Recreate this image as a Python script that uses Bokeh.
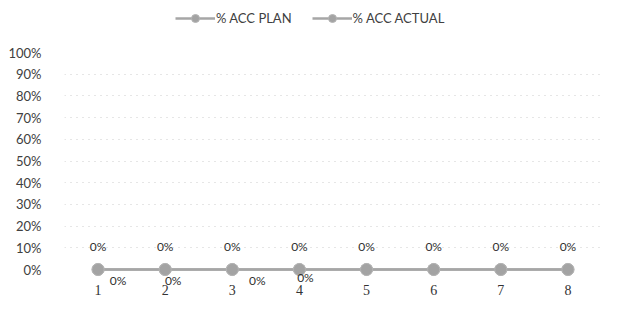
from bokeh.plotting import figure
from bokeh.models import (ColumnDataSource, FixedTicker, Legend, LegendItem,
                          Range1d, NumeralTickFormatter)
from bokeh.core.properties import value
from bokeh.embed import file_html
from bokeh.resources import INLINE

# ---- data ----
categories = [1, 2, 3, 4, 5, 6, 7, 8]
x_tick_labels = ["1", "2", "3", "4", "5", "6", "7", "8"]
acc_plan = [0, 0, 0, 0, 0, 0, 0, 0]
acc_actual = [0, 0, 0, 0, 0, 0, 0, 0]
plan_labels = ["0%", "0%", "0%", "0%", "0%", "0%", "0%", "0%"]
actual_label_cats = [1, 2, 3, 4]
actual_label_vals = [0, 0, 0, 0]
actual_labels = ["0%", "0%", "0%", "0%"]
y_ticks = [0, 0.1, 0.2, 0.3, 0.4, 0.5, 0.6, 0.7, 0.8, 0.9, 1.0]
grid_ticks = [0.1, 0.2, 0.3, 0.4, 0.5, 0.6, 0.7, 0.8, 0.9]

# label placement (styling only)
actual_dx = [20, 8, 25, 6]
actual_dy = [11, 11, 11, 8]

TXT = "#404040"
FONT = "Lato"
PX = 217.0   # pixels per unit on the y scale
H = 304

p = figure(width=601, height=H, output_backend="svg", toolbar_location=None,
           x_range=Range1d(0.5, 8.5),
           y_range=Range1d(-(H - 269) / PX, 1 + 52 / PX),
           min_border_left=64, min_border_right=0, min_border_top=0,
           min_border_bottom=0)
p.outline_line_color = None
p.background_fill_color = "white"
p.border_fill_color = "white"

p.xaxis.visible = False

# y axis
p.yaxis.ticker = FixedTicker(ticks=y_ticks)
p.yaxis.formatter = NumeralTickFormatter(format="0%")
p.yaxis.axis_line_color = None
p.yaxis.major_tick_line_color = None
p.yaxis.minor_tick_line_color = None
p.yaxis.major_label_standoff = 17
p.yaxis.major_label_text_font = FONT
p.yaxis.major_label_text_font_size = "13px"
p.yaxis.major_label_text_color = TXT

p.xgrid.visible = False
p.ygrid.ticker = FixedTicker(ticks=grid_ticks)
p.ygrid.grid_line_color = "#cdcdcd"
p.ygrid.grid_line_dash = "1 5"
p.ygrid.grid_line_width = 1

src = ColumnDataSource(dict(x=categories, plan=acc_plan, actual=acc_actual,
                            plan_lbl=plan_labels, xlbl=x_tick_labels))

l1 = p.line("x", "plan", source=src, line_color="#a6a6a6", line_width=2.5)
s1 = p.scatter("x", "plan", source=src, size=12, fill_color="#a3a3a3",
               line_color="#b5b5b5", line_width=1)
l2 = p.line("x", "actual", source=src, line_color="#a6a6a6", line_width=2.5)
s2 = p.scatter("x", "actual", source=src, size=12, fill_color="#a3a3a3",
               line_color="#b5b5b5", line_width=1)

# category labels (x axis)
p.text("x", "plan", text="xlbl", source=src, y_offset=20,
       text_align="center", text_baseline="middle",
       text_font=value("Liberation Serif"), text_font_size="14px",
       text_color="#333333")

p.text("x", "plan", text="plan_lbl", source=src, y_offset=-23,
       text_align="center", text_baseline="middle",
       text_font=value(FONT), text_font_size="12px", text_color="#303030")

asrc = ColumnDataSource(dict(x=actual_label_cats, y=actual_label_vals,
                             t=actual_labels, dx=actual_dx, dy=actual_dy))
p.text("x", "y", text="t", source=asrc, x_offset="dx", y_offset="dy",
       text_align="center", text_baseline="middle",
       text_font=value(FONT), text_font_size="12px", text_color="#303030")

legend = Legend(items=[LegendItem(label="% ACC PLAN", renderers=[l1, s1]),
                       LegendItem(label="% ACC ACTUAL", renderers=[l2, s2])],
                location=(111, H - 18 - 10), orientation="horizontal",
                glyph_width=40, glyph_height=20, label_height=20,
                label_standoff=1, spacing=20, padding=0, margin=0,
                border_line_color=None, background_fill_alpha=0,
                label_text_font=FONT, label_text_font_size="13px",
                label_text_color=TXT)
p.add_layout(legend)

open("out.html", "w").write(file_html(p, INLINE))
